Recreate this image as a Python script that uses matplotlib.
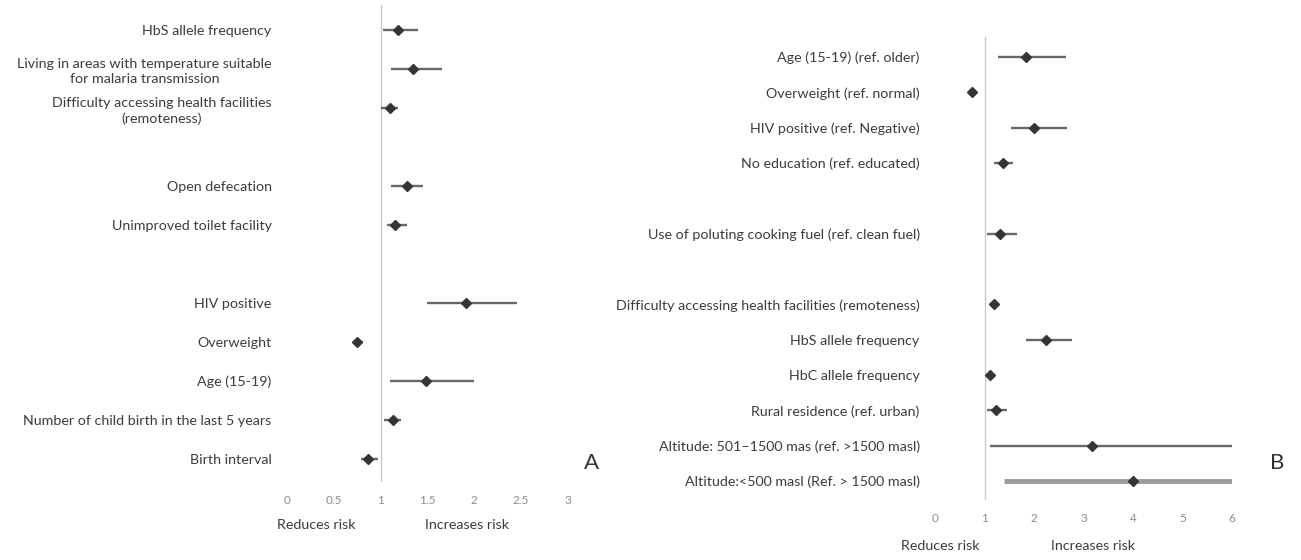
import matplotlib
matplotlib.use("Agg")
import matplotlib.pyplot as plt
import matplotlib.transforms as mtransforms

plt.rcParams['font.family'] = ['Lato', 'DejaVu Sans']

# ---------------- Panel A data ----------------
left_labels = [
    "HbS allele frequency",
    "Living in areas with temperature suitable\nfor malaria transmission",
    "Difficulty accessing health facilities\n(remoteness)",
    "Open defecation",
    "Unimproved toilet facility",
    "HIV positive",
    "Overweight",
    "Age (15-19)",
    "Number of child birth in the last 5 years",
    "Birth interval",
]
left_slots = [0, 1, 2, 4, 5, 7, 8, 9, 10, 11]
left_or = [1.19, 1.35, 1.10, 1.28, 1.15, 1.91, 0.75, 1.48, 1.13, 0.86]
left_lo = [1.03, 1.11, 1.00, 1.11, 1.07, 1.49, 0.70, 1.10, 1.04, 0.79]
left_hi = [1.40, 1.65, 1.19, 1.45, 1.28, 2.46, 0.81, 2.00, 1.22, 0.97]
left_ticks = [0, 0.5, 1, 1.5, 2, 2.5, 3]
left_ticklabels = ["0", "0.5", "1", "1.5", "2", "2.5", "3"]

# ---------------- Panel B data ----------------
right_labels = [
    "Age (15-19) (ref. older)",
    "Overweight (ref. normal)",
    "HIV positive (ref. Negative)",
    "No education (ref. educated)",
    "Use of poluting cooking fuel (ref. clean fuel)",
    "Difficulty accessing health facilities (remoteness)",
    "HbS allele frequency",
    "HbC allele frequency",
    "Rural residence (ref. urban)",
    "Altitude: 501\u20131500 mas (ref. >1500 masl)",
    "Altitude:<500 masl (Ref. > 1500 masl)",
]
right_slots = [0, 1, 2, 3, 5, 7, 8, 9, 10, 11, 12]
right_or = [1.83, 0.75, 2.00, 1.38, 1.31, 1.20, 2.25, 1.11, 1.23, 3.17, 4.00]
right_lo = [1.28, 0.72, 1.54, 1.20, 1.06, 1.11, 1.83, 1.08, 1.06, 1.12, 1.40]
right_hi = [2.64, 0.78, 2.66, 1.58, 1.65, 1.27, 2.77, 1.14, 1.45, 6.00, 6.00]
right_ticks = [0, 1, 2, 3, 4, 5, 6]
right_ticklabels = ["0", "1", "2", "3", "4", "5", "6"]

side_labels = ["Reduces risk", "Increases risk"]
panel_letters = ["A", "B"]

W, H = 1301, 560
fig = plt.figure(figsize=(W / 100, H / 100), dpi=100)

LABEL_C = "#3c3c3c"
TICK_C = "#8c8c8c"
LINE_C = "#686868"
MARK_C = "#353535"
LABEL_FS = 10.3


def px_axes(x0, x1, y0, y1):
    return fig.add_axes([x0 / W, 1 - y1 / H, (x1 - x0) / W, (y1 - y0) / H])


def draw_panel(ax, labels, slots, ors, los, his, ticks, ticklabels, xlim, ylim,
               thick_last=False):
    ax.set_xlim(*xlim)
    ax.set_ylim(*ylim)
    for s in ax.spines.values():
        s.set_visible(False)
    ax.axvline(1, color="#c8c8c8", lw=1.0, zorder=1)
    n = len(slots)
    for i in range(n):
        if thick_last and i == n - 1:
            ax.hlines(slots[i], los[i], his[i], color="#9a9a9a", lw=3.5, zorder=2)
        else:
            ax.hlines(slots[i], los[i], his[i], color=LINE_C, lw=1.7, zorder=2)
    ax.plot(ors, slots, linestyle="none", marker="D", markersize=4.8,
            color=MARK_C, zorder=3)
    ax.set_xticks(ticks)
    ax.set_xticklabels(ticklabels, color=TICK_C, fontsize=8.5)
    ax.tick_params(axis="x", length=0, pad=9)
    ax.set_yticks(slots)
    ax.set_yticklabels(labels, color=LABEL_C, fontsize=LABEL_FS)
    ax.tick_params(axis="y", length=0, pad=11)
    for t in ax.get_yticklabels():
        t.set_multialignment("center")
        t.set_linespacing(1.35)


# Panel A: x 0->287px, 3->568px ; line from y=5 to 482
axA = px_axes(287, 568, 5, 482)
draw_panel(axA, left_labels, left_slots, left_or, left_lo, left_hi,
           left_ticks, left_ticklabels, (0, 3), (11.59, -0.64))
trA = mtransforms.blended_transform_factory(axA.transData, axA.transAxes)
axA.text(0.31, -0.09, side_labels[0], transform=trA, ha="center", va="center",
         color=LABEL_C, fontsize=LABEL_FS)
axA.text(1.92, -0.09, side_labels[1], transform=trA, ha="center", va="center",
         color=LABEL_C, fontsize=LABEL_FS)
fig.text(592 / W, 1 - 463 / H, panel_letters[0], ha="center", va="center",
         fontsize=16, color="#333333")

# Panel B: x 0->935px, 6->1232px ; line from y=37 to 500
axB = px_axes(935, 1232, 37, 500)
draw_panel(axB, right_labels, right_slots, right_or, right_lo, right_hi,
           right_ticks, right_ticklabels, (0, 6), (12.54, -0.57), thick_last=True)
trB = mtransforms.blended_transform_factory(axB.transData, axB.transAxes)
axB.text(0.1, -0.10, side_labels[0], transform=trB, ha="center", va="center",
         color=LABEL_C, fontsize=LABEL_FS)
axB.text(3.2, -0.10, side_labels[1], transform=trB, ha="center", va="center",
         color=LABEL_C, fontsize=LABEL_FS)
fig.text(1277 / W, 1 - 463 / H, panel_letters[1], ha="center", va="center",
         fontsize=16, color="#333333")

fig.savefig("out.png", dpi=100, facecolor="white")
